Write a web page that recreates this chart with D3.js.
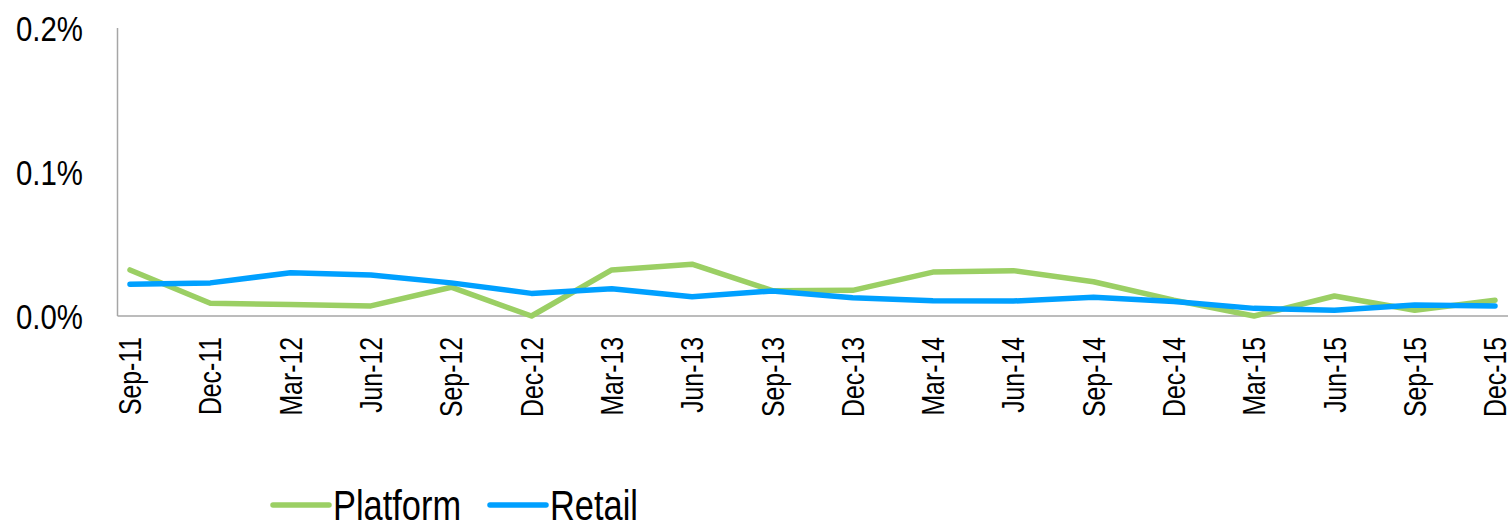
<!DOCTYPE html>
<html>
<head>
<meta charset="utf-8">
<script src="https://cdn.jsdelivr.net/npm/d3@7"></script>
<style>
  html, body { margin: 0; padding: 0; background: #fff; }
  svg { display: block; }
  text { font-family: "Liberation Sans", Arial, sans-serif; fill: #000; }
</style>
</head>
<body>
<svg id="chart" width="1509" height="524"></svg>
<script>
const categories = ["Sep-11","Dec-11","Mar-12","Jun-12","Sep-12","Dec-12","Mar-13","Jun-13","Sep-13","Dec-13","Mar-14","Jun-14","Sep-14","Dec-14","Mar-15","Jun-15","Sep-15","Dec-15"];
const platform = [0.032,0.0088,0.008,0.007,0.020,0.0,0.032,0.036,0.0176,0.0178,0.0305,0.0315,0.0238,0.011,0.0,0.0139,0.004,0.011];
const retail   = [0.022,0.023,0.030,0.0285,0.023,0.0157,0.019,0.0134,0.0174,0.0127,0.0106,0.0104,0.013,0.010,0.0053,0.004,0.0076,0.007];
const yTicks = [0, 0.1, 0.2];
const seriesNames = ["Platform", "Retail"];
const seriesColors = ["#9BCF64", "#00A0FF"];

const svg = d3.select("#chart");
const x = d3.scalePoint().domain(categories).range([130, 1495]);
const y = d3.scaleLinear().domain([0, 0.2]).range([316, 28]);

// y axis line
svg.append("line").attr("x1", 117.5).attr("x2", 117.5).attr("y1", y(0.2)).attr("y2", y(0))
  .attr("stroke", "#A6A6A6").attr("stroke-width", 1.5);
// x axis line
svg.append("line").attr("x1", 117.5).attr("x2", 1508).attr("y1", y(0)).attr("y2", y(0))
  .attr("stroke", "#A6A6A6").attr("stroke-width", 1.5);

// y tick labels
svg.append("g").selectAll("text").data(yTicks).join("text")
  .attr("transform", d => `translate(83,${y(d)}) scale(0.84,1)`)
  .attr("dy", "0.36em")
  .attr("text-anchor", "end").style("font-size", "35px")
  .text(d => d3.format(".1f")(d) + "%");

// x tick labels
svg.append("g").selectAll("text").data(categories).join("text")
  .attr("transform", d => `translate(${x(d)},337) rotate(-90) scale(0.8,1)`)
  .attr("dy", "0.36em").attr("text-anchor", "end").style("font-size", "31px")
  .text(d => d);

// lines
const line = d3.line().x((d, i) => x(categories[i])).y(d => y(d));
[platform, retail].forEach((s, i) => {
  svg.append("path").datum(s).attr("d", line).attr("fill", "none")
    .attr("stroke", seriesColors[i]).attr("stroke-width", 5.5)
    .attr("stroke-linejoin", "round").attr("stroke-linecap", "round");
});

// legend
const legendX = [273, 490];
seriesNames.forEach((name, i) => {
  const g = svg.append("g").attr("transform", `translate(${legendX[i]},505)`);
  g.append("line").attr("x1", 0).attr("x2", 56).attr("y1", 0).attr("y2", 0)
    .attr("stroke", seriesColors[i]).attr("stroke-width", 5.5).attr("stroke-linecap", "round");
  g.append("text").attr("transform", "translate(60,0) scale(0.8,1)").attr("dy", "0.36em")
    .style("font-size", "43px").text(name);
});
</script>
</body>
</html>
